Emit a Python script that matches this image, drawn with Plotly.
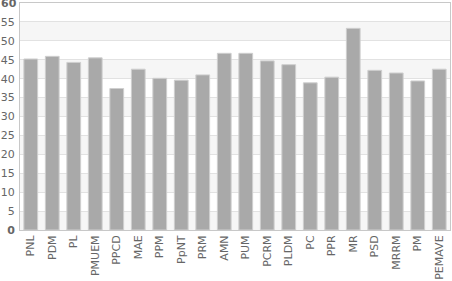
import plotly.graph_objects as go

categories = ["PNL", "PDM", "PL", "PMUEM", "PPCD", "MAE", "PPM", "PpNT", "PRM", "AMN",
              "PUM", "PCRM", "PLDM", "PC", "PPR", "MR", "PSD", "MRRM", "PM", "PEMAVE"]
values = [45.2, 45.9, 44.3, 45.5, 37.4, 42.5, 40.1, 39.6, 41.0, 46.7,
          46.7, 44.7, 43.7, 38.9, 40.4, 53.3, 42.2, 41.5, 39.4, 42.5]
y_ticks = [0, 5, 10, 15, 20, 25, 30, 35, 40, 45, 50, 55, 60]
y_ticktext = ["<b>0</b>", "5", "10", "15", "20", "25", "30", "35", "40", "45", "50", "55", ""]
y_max_label = "<b>60</b>"

fig = go.Figure()
fig.add_trace(go.Bar(
    x=categories, y=values,
    marker=dict(color="#a9a9a9", line=dict(color="#cfcfcf", width=1)),
    width=0.64,
))

# alternating background bands
shapes = []
for i in range(0, len(y_ticks) - 1, 2):
    shapes.append(dict(type="rect", xref="paper", yref="y", x0=0, x1=1,
                       y0=y_ticks[i], y1=y_ticks[i + 1],
                       fillcolor="#f6f6f6", line=dict(width=0), layer="below"))

fig.update_layout(
    width=452, height=281,
    margin=dict(l=16, r=1, t=3, b=50),
    paper_bgcolor="white", plot_bgcolor="white",
    shapes=shapes,
    showlegend=False,
    font=dict(family="DejaVu Sans", size=11, color="#666666"),
    annotations=[dict(text=y_max_label, xref="paper", yref="y", x=0, y=y_ticks[-1],
                      xanchor="right", yanchor="middle", xshift=-1, showarrow=False,
                      font=dict(size=11, color="#666666"))],
)
fig.update_xaxes(
    tickangle=-90, showgrid=False, showline=True, linecolor="#c8c8c8", linewidth=1,
    mirror=True, ticks="",
    tickfont=dict(size=11, color="#666666"),
)
fig.update_yaxes(
    range=[0, 60], tickvals=y_ticks, ticktext=y_ticktext,
    showgrid=True, gridcolor="#e2e2e2", gridwidth=1,
    showline=True, linecolor="#c8c8c8", linewidth=1, mirror=True,
    zeroline=False, ticks="", ticklabelstandoff=2,
    tickfont=dict(size=11, color="#666666"),
)

fig.write_html("out.html")
